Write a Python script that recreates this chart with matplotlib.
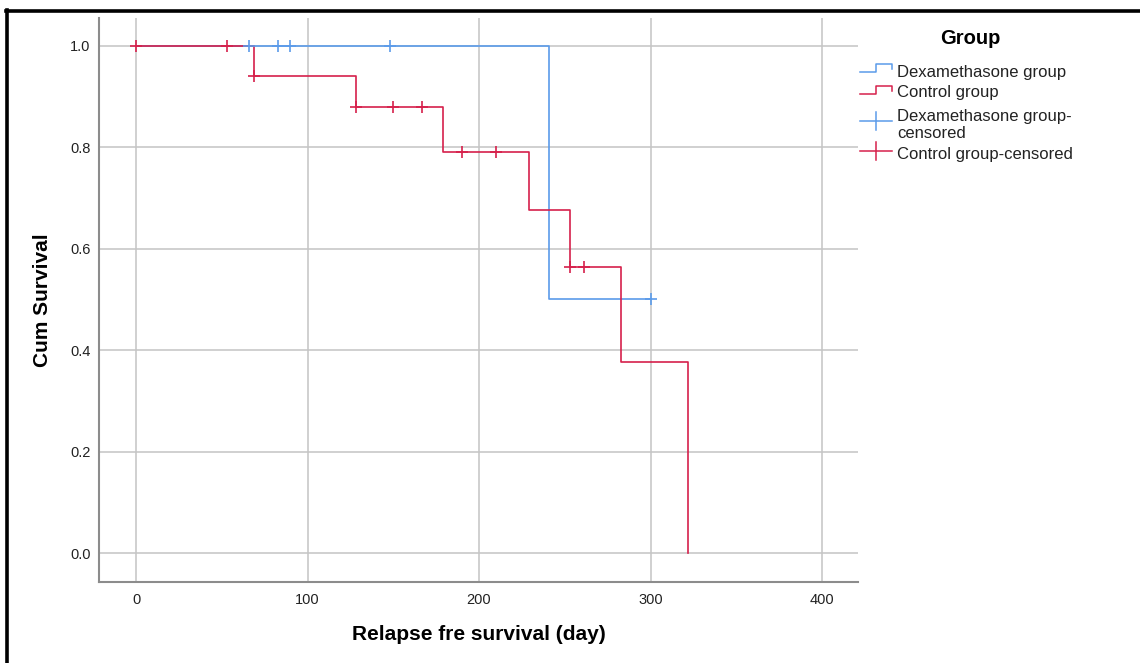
import matplotlib
matplotlib.use("Agg")
import matplotlib.pyplot as plt
import numpy as np
from matplotlib.lines import Line2D

plt.rcParams['font.family'] = ['Liberation Sans', 'DejaVu Sans']

# Kaplan-Meier steps
ctrl_times = [0, 69, 128, 179, 229, 253, 283, 322]
ctrl_surv = [1.0, 0.941, 0.879, 0.790, 0.677, 0.564, 0.376, 0.0]
ctrl_censored = [0, 53, 69, 128, 150, 167, 190, 210, 253, 261]

dexa_times = [0, 241, 300]
dexa_surv = [1.0, 0.5, 0.5]
dexa_censored = [66, 83, 90, 148, 300]

x_ticks = [0, 100, 200, 300, 400]
y_ticks = [0.0, 0.2, 0.4, 0.6, 0.8, 1.0]

BLUE = '#5b9bea'
RED = '#d6204b'
W, H = 1140, 663


def surv_at(times, surv, t):
    i = np.searchsorted(times, t, side='right') - 1
    return np.asarray(surv)[i]


def px(x, y):
    return x / W, 1 - y / H


fig = plt.figure(figsize=(W / 100, H / 100), dpi=100)
ax = fig.add_axes([99 / W, 81 / H, (858 - 99) / W, (582 - 18) / H])

ax.set_xlim(-21.6, 421)
ax.set_ylim(-0.057, 1.055)
ax.set_xticks(x_ticks)
ax.set_yticks(y_ticks)
ax.set_yticklabels([f"{v:.1f}" for v in y_ticks])
ax.grid(True, color='#c4c4c4', linewidth=1.1)
ax.set_axisbelow(True)
ax.tick_params(length=0, labelsize=10.5, colors='#222222')
ax.tick_params(axis='x', pad=8)
ax.tick_params(axis='y', pad=6)
for side in ['top', 'right']:
    ax.spines[side].set_visible(False)
for side in ['left', 'bottom']:
    ax.spines[side].set_color('#8c8c8c')
    ax.spines[side].set_linewidth(1.5)

ax.step(dexa_times, dexa_surv, where='post', color=BLUE, lw=1.2, zorder=3)
ax.step(ctrl_times, ctrl_surv, where='post', color=RED, lw=1.2, zorder=4)
ax.plot(dexa_censored, surv_at(dexa_times, dexa_surv, dexa_censored), ls='none',
        marker='+', ms=9, mew=1.2, color=BLUE, zorder=5)
ax.plot(ctrl_censored, surv_at(ctrl_times, ctrl_surv, ctrl_censored), ls='none',
        marker='+', ms=9, mew=1.2, color=RED, zorder=5)

fig.text(*px(43, 300), "Cum Survival", rotation=90, ha='center', va='center',
         fontsize=15, fontweight='bold')
fig.text(*px(479, 635), "Relapse fre survival (day)", ha='center', va='center',
         fontsize=15, fontweight='bold')

# legend, drawn by hand like the SPSS one
fig.text(*px(970, 39), "Group", ha='center', va='center', fontsize=14.5, fontweight='bold')


def step_handle(ylow, color):
    xs = [860, 876, 876, 892, 892]
    ys = [ylow, ylow, ylow - 8, ylow - 8, ylow - 3]
    pts = [px(a, b) for a, b in zip(xs, ys)]
    fig.add_artist(Line2D([p[0] for p in pts], [p[1] for p in pts], color=color, lw=1.1))


def cens_handle(y, color):
    a, b = px(860, y), px(892, y)
    fig.add_artist(Line2D([a[0], b[0]], [a[1], b[1]], color=color, lw=1.1))
    c, d = px(876, y - 9), px(876, y + 9)
    fig.add_artist(Line2D([c[0], d[0]], [c[1], d[1]], color=color, lw=1.1))


step_handle(72, BLUE)
step_handle(94, RED)
cens_handle(121, BLUE)
cens_handle(151, RED)

legend_font = dict(ha='left', va='center', fontsize=12, color='#222222')
fig.text(*px(897, 73), "Dexamethasone group", **legend_font)
fig.text(*px(897, 93), "Control group", **legend_font)
fig.text(*px(897, 116), "Dexamethasone group-", **legend_font)
fig.text(*px(897, 134), "censored", **legend_font)
fig.text(*px(897, 154), "Control group-censored", **legend_font)

# black frame at top and left edge
fig.add_artist(Line2D([px(6, 11)[0], 1.0], [px(6, 11)[1]] * 2, color='black', lw=2.6))
fig.add_artist(Line2D([px(7, 10)[0]] * 2, [px(7, 10)[1], 0.0], color='black', lw=2.6))

fig.savefig("out.png", dpi=100)
